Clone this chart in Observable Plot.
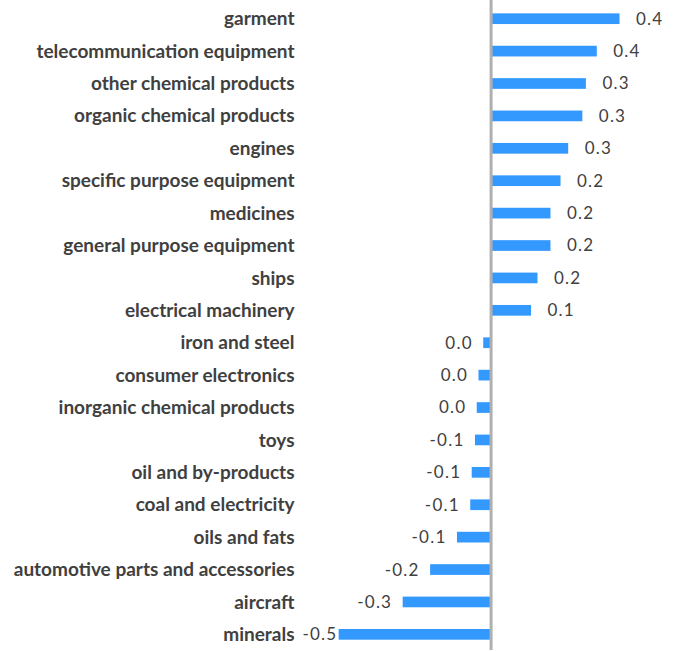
<!DOCTYPE html>
<html>
<head>
<meta charset="utf-8">
<script src="https://cdn.jsdelivr.net/npm/d3@7"></script>
<script src="https://cdn.jsdelivr.net/npm/@observablehq/plot@0.6"></script>
<style>
  html, body { margin: 0; padding: 0; background: #fff; }
  #chart svg { display: block; }
  .vlab text { letter-spacing: 1.2px; }
</style>
</head>
<body>
<div id="chart"></div>
<script>
const categories = [
  "garment", "telecommunication equipment", "other chemical products",
  "organic chemical products", "engines", "specific purpose equipment",
  "medicines", "general purpose equipment", "ships", "electrical machinery",
  "iron and steel", "consumer electronics", "inorganic chemical products",
  "toys", "oil and by-products", "coal and electricity", "oils and fats",
  "automotive parts and accessories", "aircraft", "minerals"
];
const values = [
  0.437, 0.360, 0.323, 0.311, 0.263, 0.237, 0.203, 0.203, 0.159, 0.137,
  -0.025, -0.041, -0.047, -0.053, -0.064, -0.069, -0.114, -0.205, -0.298, -0.515
];
const valueLabels = [
  "0.4", "0.4", "0.3", "0.3", "0.3", "0.2", "0.2", "0.2", "0.2", "0.1",
  "0.0", "0.0", "0.0", "-0.1", "-0.1", "-0.1", "-0.1", "-0.2", "-0.3", "-0.5"
];

const data = categories.map((c, i) => ({category: c, value: values[i], label: valueLabels[i]}));
const pos = data.filter(d => d.value >= 0);
// labels of negative bars that would run past the plot's left edge are pinned to that edge (as in the source)
const edgeLimit = -0.45;
const neg = data.filter(d => d.value < 0 && d.value >= edgeLimit);
const negEdge = data.filter(d => d.value < edgeLimit);

const chart = Plot.plot({
  width: 680,
  height: 651,
  marginLeft: 300,
  marginRight: 0,
  marginTop: 0,
  marginBottom: 0,
  style: {fontFamily: "Lato, sans-serif", background: "#fff"},
  x: {domain: [-0.646, 0.642], axis: null},
  y: {domain: categories, range: [13.35, 639.7], paddingInner: 0.67, paddingOuter: 0, round: false, label: null},
  marks: [
    Plot.barX(data, {x: "value", y: "category", fill: "#3399ff"}),
    Plot.ruleX([0], {stroke: "#b0b0b0", strokeWidth: 3, insetTop: -2, insetBottom: 1}),
    Plot.axisY({tickSize: 0, tickPadding: 6, fontSize: 19, fontWeight: "bold", color: "#404040", label: null}),
    Plot.text(pos, {x: "value", y: "category", text: "label", textAnchor: "start", dx: 16, fontSize: 17, fill: "#404040", className: "vlab"}),
    Plot.text(neg, {x: "value", y: "category", text: "label", textAnchor: "end", dx: -11, fontSize: 17, fill: "#404040", className: "vlab"}),
    Plot.text(negEdge, {frameAnchor: "left", y: "category", text: "label", textAnchor: "start", dx: 2, fontSize: 17, fill: "#404040", className: "vlab"})
  ]
});
document.getElementById("chart").appendChild(chart);
</script>
</body>
</html>
